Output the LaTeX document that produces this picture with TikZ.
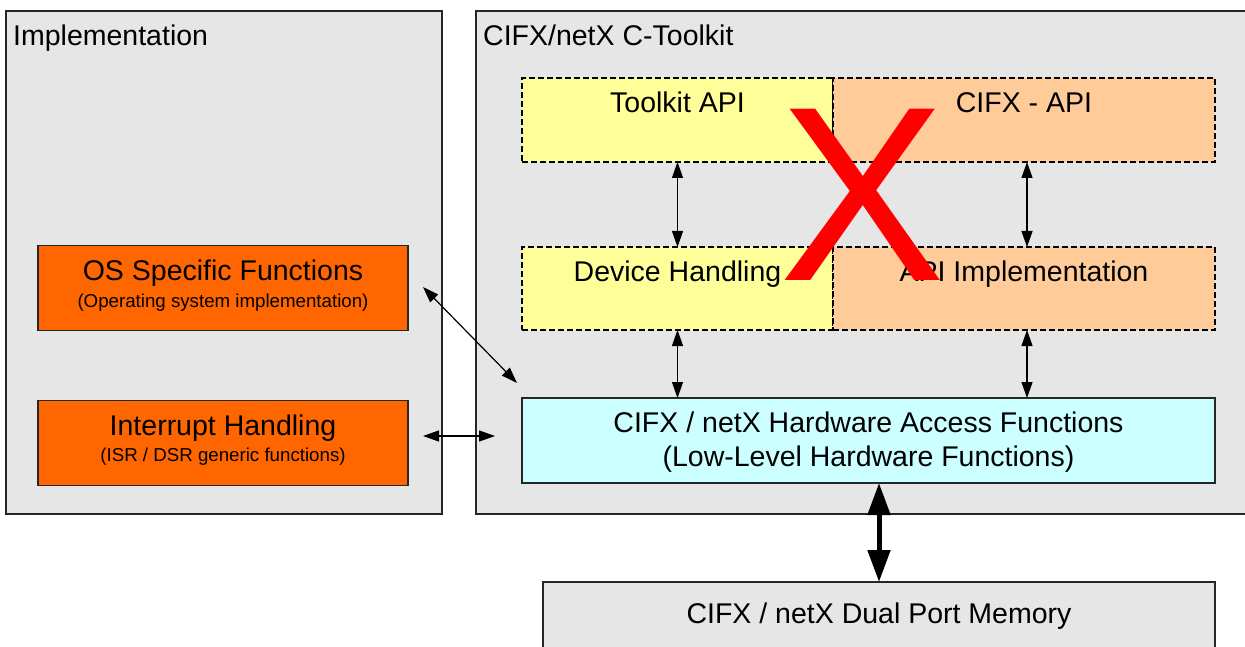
\documentclass[tikz,border=0pt]{standalone}
\usepackage{fontspec}
\setmainfont{Liberation Sans}
\usetikzlibrary{arrows.meta}
\definecolor{boxgray}{HTML}{E6E6E6}
\definecolor{lyellow}{HTML}{FFFF99}
\definecolor{lorange}{HTML}{FFCC99}
\definecolor{dorange}{HTML}{FF6600}
\definecolor{lcyan}{HTML}{CCFFFF}
\begin{document}
\begin{tikzpicture}[x=1pt,y=-1pt,
  box/.style={draw=black!85, line width=1.4pt, inner sep=0pt, outer sep=0pt},
  dbox/.style={draw=black, line width=1.6pt, dash pattern=on 6pt off 3pt, inner sep=0pt, outer sep=0pt},
  big/.style={font=\fontsize{28.5}{30}\selectfont, inner sep=0pt, anchor=base},
  small/.style={font=\fontsize{18.7}{20}\selectfont, inner sep=0pt, anchor=base},
  arr/.style={line width=1.2pt, {Triangle[length=16pt,width=11pt]}-{Triangle[length=16pt,width=11pt]}},
  thickarr/.style={line width=5pt, {Triangle[length=32pt,width=22pt]}-{Triangle[length=32pt,width=22pt]}},
  ]
\useasboundingbox (0,0) rectangle (1245,647);
\clip (0,0) rectangle (1245,647);
\fill[white] (0,0) rectangle (1245,647);

% outer containers
\node[box, fill=boxgray, minimum width=436pt, minimum height=503pt] (impl) at (224,262.5) {};
\node[box, fill=boxgray, minimum width=784pt, minimum height=503pt] (tk) at (868,262.5) {};
\node[big, anchor=base west] (impltxt) at (13,46) {Implementation};
\node[big, anchor=base west] (tktxt) at (483,46) {CIFX/netX C-Toolkit};

% toolkit boxes
\node[dbox, fill=lyellow, minimum width=311pt, minimum height=84pt] (tapi) at (677.5,120) {};
\node[dbox, fill=lorange, minimum width=382pt, minimum height=84pt] (capi) at (1024,120) {};
\node[dbox, fill=lyellow, minimum width=311pt, minimum height=83pt] (dev) at (677.5,288.5) {};
\node[dbox, fill=lorange, minimum width=382pt, minimum height=83pt] (aimpl) at (1024,288.5) {};
\node[big] (tapitxt) at (677.5,113) {Toolkit API};
\node[big] (capitxt) at (1024,113) {CIFX - API};
\node[big] (devtxt) at (677.5,281) {Device Handling};
\node[big] (aimpltxt) at (1024,281) {API Implementation};

% hardware access
\node[box, fill=lcyan, minimum width=693pt, minimum height=85pt] (hw) at (868.5,440.5) {};
\node[big] (hwtxt1) at (868.5,432) {CIFX / netX Hardware Access Functions};
\node[big] (hwtxt2) at (868.5,466) {(Low-Level Hardware Functions)};

% dual port memory
\node[box, fill=boxgray, minimum width=672pt, minimum height=98pt] (dpm) at (879,631) {};
\node[big] (dpmtxt) at (879,623) {CIFX / netX Dual Port Memory};

% implementation boxes
\node[box, fill=dorange, minimum width=370pt, minimum height=85pt] (os) at (223,288) {};
\node[big] (ostxt1) at (223,280) {OS Specific Functions};
\node[small] (ostxt2) at (223,307.5) {(Operating system implementation)};
\node[box, fill=dorange, minimum width=370pt, minimum height=85pt] (int) at (223,443) {};
\node[big] (inttxt1) at (223,435) {Interrupt Handling};
\node[small] (inttxt2) at (223,461) {(ISR / DSR generic functions)};

% connectors
\draw[arr] (tapi.south) -- (dev.north);
\draw[arr] ([xshift=3pt]capi.south) -- ([xshift=3pt]aimpl.north);
\draw[arr] (dev.south) -- (dev.south |- hw.north);
\draw[arr] ([xshift=3pt]aimpl.south) -- ([xshift=3pt]aimpl.south |- hw.north);
\coordinate (da) at (423,287);
\coordinate (db) at (517,383);
\draw[arr] (da) -- (db);
\coordinate (ha) at (423,436);
\coordinate (hb) at (495,436);
\draw[arr] (ha) -- (hb);
\draw[thickarr] (dpm.north |- hw.south) -- (dpm.north);

% red cross
\node[font=\fontsize{249}{250}\selectfont, text=red, inner sep=0pt, anchor=base] (redx) at (862.5,280) {X};
\end{tikzpicture}
\end{document}
